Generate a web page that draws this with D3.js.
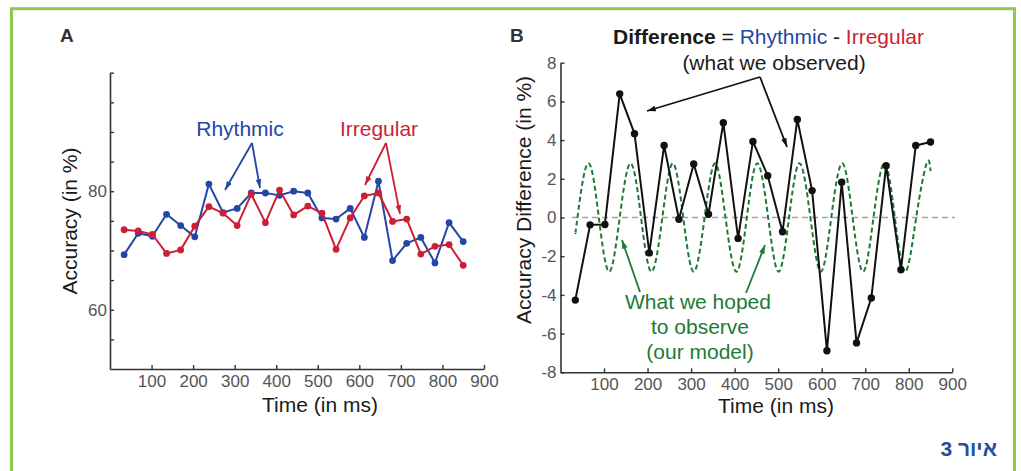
<!DOCTYPE html>
<html>
<head>
<meta charset="utf-8">
<script src="https://cdn.jsdelivr.net/npm/d3@7"></script>
<style>
  html, body { margin: 0; padding: 0; background: #fff; }
  svg { display: block; font-family: "Liberation Sans", Arial, Helvetica, sans-serif; }
</style>
</head>
<body>
<div id="chart"></div>
<script>
// Data (time in ms)
const times = [34, 68, 102, 136, 170, 204, 238, 272, 306, 340, 374, 408, 442, 476, 510, 544, 578, 612, 646, 680, 714, 748, 782, 816, 850];
const rhythmic = [69.3, 72.9, 72.4, 76.1, 74.2, 72.3, 81.2, 76.4, 77.1, 79.7, 79.7, 79.3, 80.0, 79.7, 75.5, 75.3, 77.1, 72.2, 81.7, 68.3, 71.2, 72.2, 67.9, 74.7, 71.5];
const irregular = [73.5, 73.3, 72.7, 69.5, 70.1, 74.1, 77.4, 76.3, 74.2, 79.5, 74.7, 80.2, 76.0, 77.5, 76.3, 70.2, 75.5, 79.2, 79.7, 74.9, 75.3, 69.4, 70.7, 71.0, 67.5];
const difference = [-4.27, -0.38, -0.36, 6.39, 4.33, -1.83, 3.72, -0.09, 2.77, 0.17, 4.9, -1.08, 3.93, 2.16, -0.74, 5.07, 1.39, -6.89, 1.82, -6.48, -4.16, 2.68, -2.7, 3.72, 3.9];

// Model curve: peaks, troughs and zero crossings
const modelTime = [34, 39, 63, 88, 112, 136, 161, 185, 209, 234, 258, 282, 306, 331, 355, 379, 404, 428, 452, 477, 501, 525, 549, 574, 598, 622, 647, 671, 695, 719, 744, 768, 792, 817, 841, 850];
const modelValue = [-0.8, 0, 2.8, 0, -2.8, 0, 2.8, 0, -2.8, 0, 2.8, 0, -2.8, 0, 2.8, 0, -2.8, 0, 2.8, 0, -2.8, 0, 2.8, 0, -2.8, 0, 2.8, 0, -2.8, 0, 2.8, 0, -2.8, 0, 2.8, 2.4];

// Tick labels
const timeTicks = [100, 200, 300, 400, 500, 600, 700, 800, 900];
const accuracyTicks = [55, 60, 65, 70, 75, 80, 85, 90, 95, 100];
const accuracyLabels = [60, 80];
const diffTicks = [-8, -6, -4, -2, 0, 2, 4, 6, 8];

const colors = {
  blue: '#2446a6',
  red: '#cc1f36',
  black: '#111',
  green: '#1d7a36',
  axis: '#333',
  tick: '#555',
  border: '#8dc94e',
  caption: '#234f9e'
};

const W = 1021, H = 471;
const svg = d3.select('#chart').append('svg').attr('width', W).attr('height', H);

// Arrow markers
const defs = svg.append('defs');
Object.entries({ blue: colors.blue, red: colors.red, black: colors.black, green: colors.green }).forEach(([k, c]) => {
  defs.append('marker')
    .attr('id', 'arrow-' + k)
    .attr('viewBox', '0 -4 10 8')
    .attr('refX', 10).attr('refY', 0)
    .attr('markerUnits', 'userSpaceOnUse')
    .attr('markerWidth', 9).attr('markerHeight', 7)
    .attr('orient', 'auto')
    .append('path').attr('d', 'M0,-3.2L10,0L0,3.2Z').attr('fill', c);
});

// Green frame
svg.append('rect')
  .attr('x', 11.5).attr('y', 8.7).attr('width', 1003).attr('height', 480)
  .attr('fill', 'none').attr('stroke', colors.border).attr('stroke-width', 3);

function styleAxis(g) {
  g.select('.domain').attr('stroke', colors.axis).attr('stroke-width', 1.6);
  g.selectAll('.tick line').attr('stroke', colors.axis).attr('stroke-width', 1.4);
  g.selectAll('.tick text').attr('fill', colors.tick).style('font-size', '17px')
    .style('font-family', '"Liberation Sans", Arial, sans-serif');
}

function arrow(x1, y1, x2, y2, color, key) {
  svg.append('line')
    .attr('x1', x1).attr('y1', y1).attr('x2', x2).attr('y2', y2)
    .attr('stroke', color).attr('stroke-width', 1.8)
    .attr('marker-end', `url(#arrow-${key})`);
}

function label(x, y, text, opts = {}) {
  const t = svg.append('text')
    .attr('x', x).attr('y', y)
    .attr('text-anchor', opts.anchor || 'middle')
    .attr('fill', opts.color || '#1a1a1a')
    .style('font-size', (opts.size || 21) + 'px')
    .style('font-weight', opts.weight || 'normal')
    .text(text);
  if (opts.rotate) t.attr('transform', `rotate(-90,${x},${y})`);
  return t;
}

// ---------- Panel A ----------
const xA = d3.scaleLinear().domain([0, 900]).range([110, 484]);
const yA = d3.scaleLinear().domain([50, 100]).range([369, 72.7]);

svg.append('g')
  .attr('transform', `translate(0,${yA(50)})`)
  .call(d3.axisBottom(xA).tickValues(timeTicks).tickSizeInner(-4).tickSizeOuter(0).tickPadding(6))
  .call(styleAxis);

svg.append('g')
  .attr('transform', `translate(${xA(0)},0)`)
  .call(d3.axisLeft(yA).tickValues(accuracyTicks).tickSizeInner(-4).tickSizeOuter(0).tickPadding(3)
    .tickFormat(d => accuracyLabels.includes(d) ? d : ''))
  .call(styleAxis);

const lineA = (vals) => d3.line().x((d, i) => xA(times[i])).y(d => yA(d))(vals);

[[rhythmic, colors.blue], [irregular, colors.red]].forEach(([vals, c]) => {
  svg.append('path').attr('d', lineA(vals)).attr('fill', 'none')
    .attr('stroke', c).attr('stroke-width', 2).attr('stroke-linejoin', 'round');
  svg.append('g').selectAll('circle').data(vals).join('circle')
    .attr('cx', (d, i) => xA(times[i])).attr('cy', d => yA(d))
    .attr('r', 3.4).attr('fill', c);
});

label(60, 42, 'A', { anchor: 'start', weight: 'bold', size: 19, color: '#333' });
label(77, 221, 'Accuracy (in %)', { rotate: true });
label(320, 412, 'Time (in ms)');

label(240, 136, 'Rhythmic', { color: colors.blue });
label(379, 136, 'Irregular', { color: colors.red });
arrow(252, 143, 225, 190, colors.blue, 'blue');
arrow(252, 143, 260, 188, colors.blue, 'blue');
arrow(386, 143, 365, 185, colors.red, 'red');
arrow(386, 143, 400, 214, colors.red, 'red');

// ---------- Panel B ----------
const xB = d3.scaleLinear().domain([0, 900]).range([560.5, 952.3]);
const yB = d3.scaleLinear().domain([-8, 8]).range([372.3, 62.7]);

svg.append('g')
  .attr('transform', `translate(0,${yB(-8)})`)
  .call(d3.axisBottom(xB).tickValues(timeTicks).tickSizeInner(-4).tickSizeOuter(0).tickPadding(6))
  .call(styleAxis);

svg.append('g')
  .attr('transform', `translate(${xB(0)},0)`)
  .call(d3.axisLeft(yB).tickValues(diffTicks).tickSizeInner(-4).tickSizeOuter(0).tickPadding(4)
    .tickFormat(d => String(d)))
  .call(styleAxis);

// zero reference
svg.append('line')
  .attr('x1', 572).attr('x2', 955).attr('y1', yB(0)).attr('y2', yB(0))
  .attr('stroke', '#a3a3a3').attr('stroke-width', 1.6).attr('stroke-dasharray', '6,4');

// model (dashed green)
svg.append('path')
  .attr('d', d3.line().curve(d3.curveNatural)
    .x((d, i) => xB(modelTime[i])).y(d => yB(d))(modelValue))
  .attr('fill', 'none').attr('stroke', colors.green).attr('stroke-width', 2)
  .attr('stroke-dasharray', '5,3');

// observed difference
svg.append('path')
  .attr('d', d3.line().x((d, i) => xB(times[i])).y(d => yB(d))(difference))
  .attr('fill', 'none').attr('stroke', colors.black).attr('stroke-width', 2)
  .attr('stroke-linejoin', 'round');
svg.append('g').selectAll('circle').data(difference).join('circle')
  .attr('cx', (d, i) => xB(times[i])).attr('cy', d => yB(d))
  .attr('r', 3.7).attr('fill', colors.black);

label(510, 42, 'B', { anchor: 'start', weight: 'bold', size: 19, color: '#333' });
label(531, 200, 'Accuracy Difference (in %)', { rotate: true });
label(776, 413, 'Time (in ms)');

const title = label(613, 44, '', { anchor: 'start' });
title.append('tspan').attr('font-weight', 'bold').attr('fill', '#1a1a1a').text('Difference');
title.append('tspan').attr('fill', '#1a1a1a').text(' = ');
title.append('tspan').attr('fill', colors.blue).text('Rhythmic');
title.append('tspan').attr('fill', '#1a1a1a').text(' - ');
title.append('tspan').attr('fill', colors.red).text('Irregular');
label(774, 70, '(what we observed)');
arrow(760, 77, 647, 111, colors.black, 'black');
arrow(760, 77, 787, 147, colors.black, 'black');

label(698, 309, 'What we hoped', { color: colors.green });
label(700, 334, 'to observe', { color: colors.green });
label(700, 359, '(our model)', { color: colors.green });
arrow(640, 292, 622, 240, colors.green, 'green');
arrow(746, 293, 765, 245, colors.green, 'green');

// Caption
svg.append('text')
  .attr('x', 997).attr('y', 456)
  .attr('direction', 'rtl')
  .attr('text-anchor', 'start')
  .attr('fill', colors.caption)
  .style('font-size', '21px').style('font-weight', 'bold')
  .style('font-family', '"Liberation Sans", "DejaVu Sans", sans-serif')
  .text('איור 3');
</script>
</body>
</html>
